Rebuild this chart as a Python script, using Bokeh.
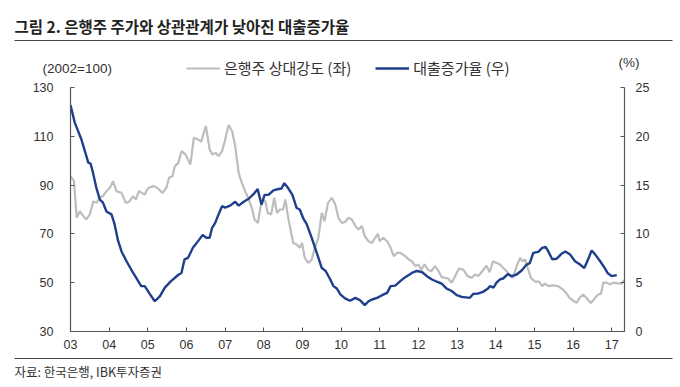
from bokeh.plotting import figure
from bokeh.layouts import column
from bokeh.models import Range1d, LinearAxis, FixedTicker, Legend, LegendItem
from bokeh.core.properties import value
from bokeh.embed import file_html
from bokeh.resources import INLINE

# ---- data ----
title_text = "그림 2. 은행주 주가와 상관관계가 낮아진 대출증가율"
source_text = "자료: 한국은행, IBK투자증권"
series_names = ["은행주 상대강도 (좌)", "대출증가율 (우)"]
left_unit = "(2002=100)"
right_unit = "(%)"

year_ticks = list(range(2003, 2018))
year_labels = ["03", "04", "05", "06", "07", "08", "09", "10", "11", "12", "13", "14", "15", "16", "17"]
left_ticks = [30, 50, 70, 90, 110, 130]
right_ticks = [0, 5, 10, 15, 20, 25]

bank_x = [2003.00, 2003.09, 2003.16, 2003.24, 2003.33, 2003.41, 2003.50, 2003.59, 2003.67, 2003.76,
          2003.84, 2003.93, 2004.02, 2004.10, 2004.19, 2004.32, 2004.43, 2004.53, 2004.62, 2004.69,
          2004.77, 2004.92, 2005.00, 2005.14, 2005.24, 2005.38, 2005.48, 2005.55, 2005.64, 2005.70,
          2005.79, 2005.87, 2005.98, 2006.10, 2006.19, 2006.30, 2006.38, 2006.50, 2006.60, 2006.67,
          2006.75, 2006.83, 2006.92, 2006.99, 2007.09, 2007.18, 2007.26, 2007.35, 2007.43, 2007.52,
          2007.61, 2007.69, 2007.76, 2007.85, 2007.91, 2007.97, 2008.04, 2008.10, 2008.19, 2008.27,
          2008.34, 2008.42, 2008.50, 2008.56, 2008.63, 2008.70, 2008.76, 2008.85, 2008.93, 2008.99,
          2009.06, 2009.15, 2009.24, 2009.32, 2009.41, 2009.50, 2009.57, 2009.66, 2009.76, 2009.85,
          2009.93, 2010.02, 2010.11, 2010.19, 2010.28, 2010.37, 2010.45, 2010.54, 2010.61, 2010.71,
          2010.80, 2010.88, 2010.95, 2011.00, 2011.09, 2011.19, 2011.28, 2011.36, 2011.45, 2011.53,
          2011.66, 2011.75, 2011.83, 2011.92, 2012.00, 2012.07, 2012.16, 2012.24, 2012.33, 2012.43,
          2012.52, 2012.60, 2012.69, 2012.77, 2012.86, 2012.95, 2013.05, 2013.16, 2013.27, 2013.38,
          2013.46, 2013.55, 2013.65, 2013.76, 2013.84, 2013.93, 2014.02, 2014.11, 2014.19, 2014.28,
          2014.37, 2014.45, 2014.54, 2014.63, 2014.69, 2014.76, 2014.84, 2014.91, 2015.02, 2015.12,
          2015.20, 2015.27, 2015.37, 2015.48, 2015.61, 2015.74, 2015.82, 2015.91, 2016.00, 2016.09,
          2016.17, 2016.26, 2016.34, 2016.46, 2016.57, 2016.65, 2016.72, 2016.78, 2016.87, 2016.95,
          2017.04, 2017.15, 2017.25, 2017.32]
bank_y = [93.7, 91.6, 76.6, 79.3, 77.3, 75.9, 78.0, 83.4, 82.7, 84.8,
          85.5, 87.5, 88.9, 91.6, 87.5, 86.8, 82.7, 83.4, 85.5, 84.1,
          87.5, 86.1, 88.6, 89.6, 88.9, 86.8, 88.9, 93.0, 93.7, 97.8,
          99.1, 103.9, 102.5, 98.4, 109.4, 108.7, 107.7, 114.2, 104.6, 102.5,
          103.2, 101.9, 103.9, 108.0, 114.6, 112.1, 106.0, 95.0, 90.9, 87.5,
          84.1, 80.7, 75.9, 74.5, 80.7, 84.1, 83.4, 78.6, 78.0, 84.8,
          78.6, 80.0, 80.0, 84.1, 76.6, 71.1, 66.3, 65.7, 64.3, 66.3,
          60.2, 58.1, 59.5, 64.3, 68.4, 78.6, 75.2, 82.7, 84.8, 82.0,
          76.6, 74.5, 75.0, 76.6, 75.9, 73.2, 71.8, 73.2, 69.1, 67.0,
          66.3, 68.4, 70.0, 67.0, 68.4, 67.0, 64.3, 60.9, 62.2, 62.2,
          60.9, 59.5, 58.8, 56.8, 57.5, 55.4, 57.5, 55.4, 54.7, 56.8,
          54.7, 52.3, 52.0, 51.7, 50.0, 52.7, 55.8, 55.4, 52.7, 52.0,
          53.4, 52.7, 54.7, 57.0, 54.3, 58.8, 58.1, 57.5, 56.1, 54.7,
          52.7, 52.0, 56.8, 60.2, 58.8, 59.5, 55.4, 52.0, 50.4, 50.4,
          48.6, 49.6, 48.6, 48.9, 48.6, 47.2, 45.8, 43.8, 42.7, 41.7,
          43.8, 45.2, 43.8, 41.7, 43.8, 45.2, 45.4, 50.0, 50.0, 49.3,
          50.0, 49.7, 49.6, 50.9]

loan_x = [2003.00, 2003.11, 2003.20, 2003.28, 2003.37, 2003.46, 2003.52, 2003.58, 2003.67, 2003.76,
          2003.84, 2003.93, 2004.06, 2004.14, 2004.23, 2004.32, 2004.45, 2004.57, 2004.70, 2004.83,
          2004.92, 2005.05, 2005.18, 2005.31, 2005.44, 2005.60, 2005.80, 2005.87, 2005.95, 2006.04,
          2006.17, 2006.30, 2006.42, 2006.51, 2006.60, 2006.66, 2006.74, 2006.83, 2006.92, 2007.00,
          2007.13, 2007.26, 2007.35, 2007.48, 2007.61, 2007.74, 2007.84, 2007.94, 2008.02, 2008.12,
          2008.25, 2008.38, 2008.46, 2008.53, 2008.63, 2008.74, 2008.85, 2008.93, 2009.02, 2009.11,
          2009.24, 2009.37, 2009.50, 2009.60, 2009.72, 2009.80, 2009.89, 2009.98, 2010.10, 2010.23,
          2010.37, 2010.50, 2010.61, 2010.71, 2010.80, 2010.93, 2011.06, 2011.19, 2011.28, 2011.40,
          2011.53, 2011.66, 2011.83, 2011.96, 2012.09, 2012.22, 2012.35, 2012.48, 2012.60, 2012.73,
          2012.86, 2012.99, 2013.12, 2013.33, 2013.42, 2013.55, 2013.67, 2013.80, 2013.85, 2013.94,
          2014.02, 2014.11, 2014.19, 2014.32, 2014.41, 2014.54, 2014.67, 2014.80, 2014.88, 2014.97,
          2015.10, 2015.20, 2015.29, 2015.36, 2015.46, 2015.57, 2015.70, 2015.80, 2015.92, 2016.05,
          2016.18, 2016.29, 2016.39, 2016.48, 2016.57, 2016.70, 2016.82, 2016.89, 2017.00, 2017.13]
loan_y = [23.2, 21.4, 20.5, 19.7, 18.5, 17.3, 17.2, 16.3, 14.7, 13.5,
          13.2, 12.3, 12.0, 11.0, 9.3, 8.2, 7.2, 6.35, 5.5, 4.65,
          4.65, 3.86, 3.1, 3.6, 4.5, 5.16, 5.84, 6.0, 7.4, 7.55,
          8.6, 9.26, 9.9, 9.6, 9.6, 10.6, 11.1, 12.0, 12.84, 12.7,
          12.9, 13.3, 12.9, 13.3, 13.6, 14.1, 14.6, 13.0, 14.0, 14.0,
          14.45, 14.6, 14.65, 15.2, 14.7, 14.0, 12.65, 12.5, 11.6, 11.0,
          9.6, 8.06, 6.5, 6.2, 5.33, 4.65, 4.4, 3.8, 3.4, 3.15,
          3.45, 3.17, 2.7, 3.1, 3.28, 3.45, 3.72, 3.96, 4.65, 4.7,
          5.16, 5.57, 6.0, 6.2, 6.1, 5.67, 5.33, 5.1, 4.9, 4.4,
          4.15, 3.72, 3.55, 3.45, 3.86, 3.9, 4.06, 4.4, 4.65, 4.5,
          5.0, 5.33, 5.43, 5.9, 5.67, 5.84, 6.25, 6.86, 7.0, 8.06,
          8.16, 8.57, 8.67, 8.2, 7.4, 7.45, 7.96, 8.2, 7.9, 7.2,
          6.86, 6.5, 7.4, 8.3, 7.9, 7.2, 6.5, 6.0, 5.67, 5.77]

# ---- styling ----
GRAY = "#bdbdbd"
BLUE = "#1f3f8c"
AXIS = "#555555"
TXT = "#333333"
NUM_FONT = "Liberation Sans"
KR_FONT = "Noto Sans CJK KR"
W = 680


def blank(height):
    f = figure(width=W, height=height, output_backend="svg", toolbar_location=None,
               x_range=Range1d(0, W), y_range=Range1d(height, 0),
               x_axis_location=None, y_axis_location=None, title=None,
               min_border=0)
    f.min_border_left = f.min_border_right = f.min_border_top = f.min_border_bottom = 0
    f.outline_line_color = None
    f.xgrid.visible = False
    f.ygrid.visible = False
    f.frame_align = False
    return f


# ---- header (title, rule, legend, units) ----
H1 = 77
top = blank(H1)
top.text(x=[14], y=[25], text=[title_text], text_font=value(KR_FONT),
         text_font_size="15.5px", text_font_style="bold", text_color="#222222",
         text_baseline="middle", text_align="left")
top.segment(x0=[14], y0=[40], x1=[672], y1=[40], line_color="#444444", line_width=1.2)
top.text(x=[42], y=[68], text=[left_unit], text_font=value(NUM_FONT),
         text_font_size="13.5px", text_color=TXT, text_baseline="middle", text_align="left")
top.text(x=[618], y=[62], text=[right_unit], text_font=value(NUM_FONT),
         text_font_size="13.5px", text_color=TXT, text_baseline="middle", text_align="left")
# legend sample renderers: their points lie outside the visible range, only the legend shows them
g_sample = top.line(x=[-50, -40], y=[-50, -50], line_color=GRAY, line_width=2.2)
b_sample = top.line(x=[-50, -40], y=[-50, -50], line_color=BLUE, line_width=2.4)
legend = Legend(items=[LegendItem(label=series_names[0], renderers=[g_sample]),
                       LegendItem(label=series_names[1], renderers=[b_sample])],
                location=(186, -1), orientation="horizontal",
                glyph_width=34, glyph_height=20, label_standoff=4, spacing=24,
                padding=0, margin=0, border_line_color=None, background_fill_alpha=0,
                label_text_font=KR_FONT, label_text_font_size="15px",
                label_text_color=TXT, label_height=20)
top.add_layout(legend)

# ---- main chart ----
H2 = 280
p = figure(width=W, height=H2, output_backend="svg", toolbar_location=None,
           x_range=Range1d(2003.0, 2017.33), y_range=Range1d(30, 130),
           x_axis_location=None, y_axis_location=None, title=None)
p.min_border_left = 70
p.min_border_right = 56
p.min_border_top = 10
p.min_border_bottom = 26
p.outline_line_color = None
p.xgrid.visible = False
p.ygrid.visible = False
p.frame_align = False
p.extra_y_ranges = {"right": Range1d(0, 25)}

p.line(bank_x, bank_y, line_color=GRAY, line_width=2.2)
p.line(loan_x, loan_y, line_color=BLUE, line_width=2.4, y_range_name="right")


def style_axis(ax, standoff):
    ax.axis_line_color = AXIS
    ax.axis_line_width = 1.2
    ax.major_tick_line_color = AXIS
    ax.major_tick_in = 4
    ax.major_tick_out = 0
    ax.minor_tick_line_color = None
    ax.major_label_text_font = NUM_FONT
    ax.major_label_text_font_size = "12.5px"
    ax.major_label_text_color = TXT
    ax.major_label_standoff = standoff


xaxis = LinearAxis(ticker=FixedTicker(ticks=year_ticks),
                   major_label_overrides={t: l for t, l in zip(year_ticks, year_labels)})
style_axis(xaxis, 8)
p.add_layout(xaxis, "below")

laxis = LinearAxis(ticker=FixedTicker(ticks=left_ticks))
style_axis(laxis, 17)
p.add_layout(laxis, "left")

raxis = LinearAxis(y_range_name="right", ticker=FixedTicker(ticks=right_ticks))
style_axis(raxis, 11)
p.add_layout(raxis, "right")

# ---- footer (rule, source) ----
H3 = 387 - H1 - H2
bot = blank(H3)
bot.segment(x0=[14], y0=[1], x1=[672], y1=[1], line_color="#444444", line_width=1.2)
bot.text(x=[14], y=[14], text=[source_text], text_font=value(KR_FONT),
         text_font_size="12.5px", text_color=TXT, text_baseline="middle", text_align="left")

layout = column(top, p, bot, spacing=0)
open("out.html", "w").write(file_html(layout, INLINE))
